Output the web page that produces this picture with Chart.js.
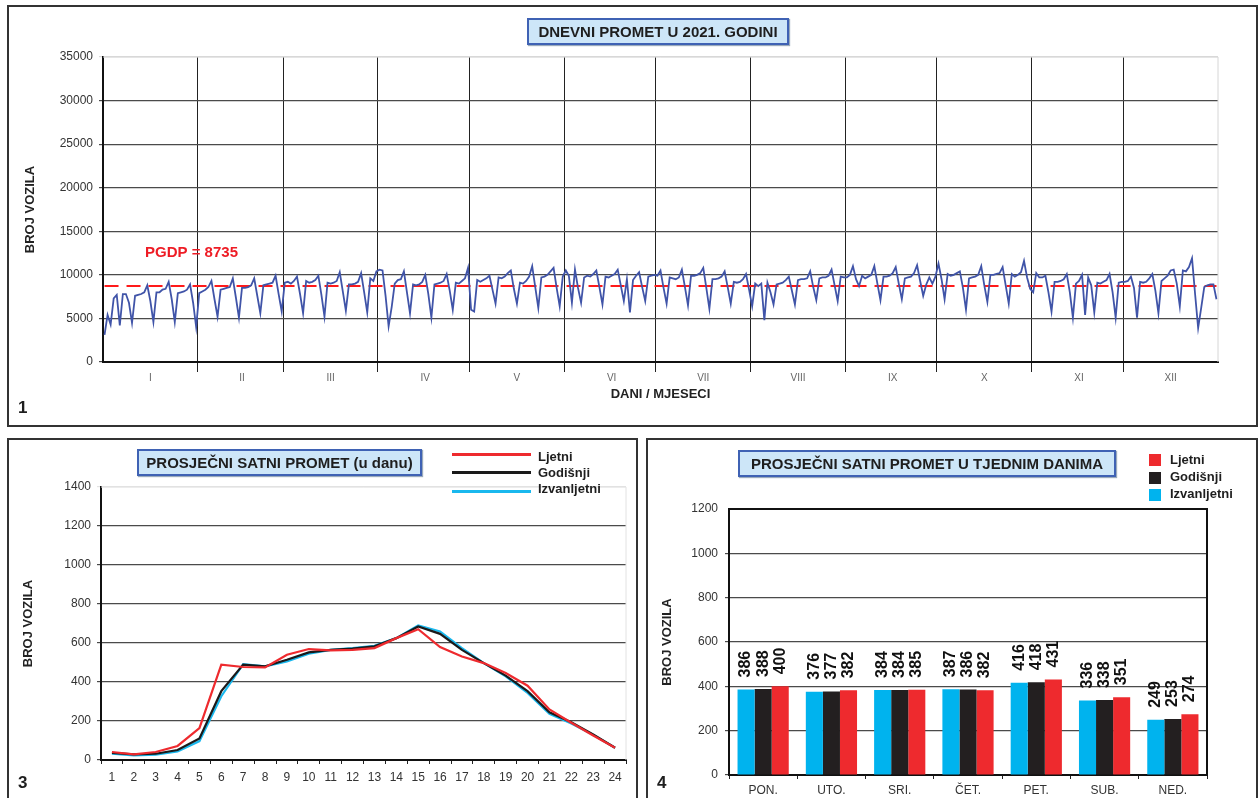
<!DOCTYPE html>
<html lang="hr">
<head>
<meta charset="utf-8">
<title>Promet 2021</title>
<script src="https://cdn.jsdelivr.net/npm/chart.js@4.4.1/dist/chart.umd.min.js"></script>
<style>
  html, body { margin: 0; padding: 0; background: #fff; }
  body { width: 1260px; height: 798px; overflow: hidden; position: relative;
         font-family: 'Liberation Sans', Arial, sans-serif; color: #1e1e1e; }
  .panel { position: absolute; border: 2px solid #333; box-sizing: border-box; }
  canvas { position: absolute; }
  .title { position: absolute; box-sizing: border-box; background: #CDE6F8; border: 2px solid #3F62B4;
           font-weight: bold; font-size: 15px; line-height: 23px; text-align: center;
           box-shadow: 1px 1px 1px #9aaabb; white-space: nowrap; }
  .num { position: absolute; font-weight: bold; font-size: 17px; }
  .leg { position: absolute; font-weight: bold; font-size: 13px; line-height: 15px; }
  .legline { position: absolute; height: 3px; width: 79px; }
  .legbox { position: absolute; width: 12px; height: 12px; }
</style>
</head>
<body>

<div class="panel" style="left:7px; top:5px; width:1251px; height:422px;"></div>
<div class="panel" style="left:7px; top:438px; width:631px; height:380px;"></div>
<div class="panel" style="left:646px; top:438px; width:612px; height:380px;"></div>

<canvas id="dailyChart" width="1245" height="417" style="left:10px; top:7px;"></canvas>
<canvas id="hourlyChart" width="625" height="357" style="left:10px; top:441px;"></canvas>
<canvas id="weekdayChart" width="606" height="357" style="left:649px; top:441px;"></canvas>

<div class="title" style="left:527px; top:18px; width:262px; height:27px;">DNEVNI PROMET U 2021. GODINI</div>
<div class="title" style="left:137px; top:449px; width:285px; height:27px;">PROSJEČNI SATNI PROMET (u danu)</div>
<div class="title" style="left:738px; top:450px; width:378px; height:27px;">PROSJEČNI SATNI PROMET U TJEDNIM DANIMA</div>

<div class="num" style="left:18px; top:398px;">1</div>
<div class="num" style="left:18px; top:773px;">3</div>
<div class="num" style="left:657px; top:773px;">4</div>

<div class="legline" style="left:452px; top:453px; background:#EE2A2E;"></div>
<div class="legline" style="left:452px; top:471px; background:#1a1a1a;"></div>
<div class="legline" style="left:452px; top:490px; background:#19B8EE;"></div>
<div class="leg" style="left:538px; top:449px;">Ljetni</div>
<div class="leg" style="left:538px; top:465px;">Godišnji</div>
<div class="leg" style="left:538px; top:481px;">Izvanljetni</div>

<div class="legbox" style="left:1149px; top:454px; background:#EE2A2E;"></div>
<div class="legbox" style="left:1149px; top:472px; background:#231F20;"></div>
<div class="legbox" style="left:1149px; top:489px; background:#00B3EE;"></div>
<div class="leg" style="left:1170px; top:452px;">Ljetni</div>
<div class="leg" style="left:1170px; top:469px;">Godišnji</div>
<div class="leg" style="left:1170px; top:486px;">Izvanljetni</div>

<script>
// ---- daily traffic 2021 (one value per day) ----
const PGDP = 8735;
const months = ['I', 'II', 'III', 'IV', 'V', 'VI', 'VII', 'VIII', 'IX', 'X', 'XI', 'XII'];
const jan = [3100, 5400, 4300, 7300, 7700, 4200, 7800, 7800, 6800, 4500, 7600, 7700, 7800, 8000, 8800, 7000,
             4600, 8000, 8000, 8300, 8400, 9200, 7200, 4600, 7900, 8000, 8100, 8300, 8900, 6800, 4000];
const feb = [7900, 8100, 8300, 8600, 9300, 7200, 5200, 8300, 8400, 8500, 8600, 9600, 7400, 5100,
             8500, 8500, 8600, 8800, 9600, 7600, 5600, 8800, 8900, 9000, 9100, 9900, 7800, 5800];
const mar = [9100, 9200, 9000, 9300, 9800, 7800, 5600, 9300, 9100, 9200, 9400, 9900, 7700, 5200, 9100, 9000,
             9100, 9300, 10300, 8100, 5900, 8900, 8900, 9000, 9200, 10200, 8000, 5700, 9600, 9300, 10400];
const apr = [10600, 10500, 7600, 4100, 6300, 9000, 9400, 9500, 10400, 8000, 5600, 8900, 8800, 8900, 9200,
             10000, 7800, 5100, 8900, 9000, 9100, 9300, 10100, 8200, 6000, 9100, 9000, 9300, 9600, 10800];
const may = [6000, 5800, 9400, 9200, 9400, 9600, 9900, 8300, 6700, 9700, 9600, 9800, 10200, 10500, 8400, 6700,
             9100, 9000, 9300, 9800, 11000, 8600, 6200, 9700, 9800, 10000, 10400, 10800, 8500, 6400, 9800];
const jun = [10500, 9900, 6800, 10600, 8500, 6800, 9700, 9900, 9800, 10100, 10500, 8600, 6600, 9800, 9700,
             9900, 10100, 10600, 8800, 7000, 9500, 5700, 9400, 9900, 10300, 8600, 7000, 9800, 9900, 10000];
const jul = [9900, 10500, 8500, 6700, 9700, 9600, 9500, 9700, 10600, 8600, 6500, 9900, 9900, 10000, 10200, 10800,
             8500, 6100, 9500, 9500, 9600, 9800, 10400, 8600, 6700, 9200, 9100, 9200, 9500, 10100, 8300];
const aug = [6400, 9000, 8700, 9000, 4800, 9100, 8000, 6600, 8900, 9000, 9100, 9400, 9800, 8200, 6600, 9400,
             9500, 9500, 9600, 10400, 8600, 7100, 9600, 9700, 9700, 9900, 10600, 8800, 7000, 9800, 9700];
const sep = [9700, 10000, 11000, 9500, 8700, 9900, 9600, 9800, 10000, 11000, 9000, 7100, 9800, 9800, 9900,
             10200, 10900, 9000, 7200, 9600, 9700, 9800, 10200, 11100, 9300, 7600, 8900, 9700, 9000, 9800];
const oct = [11300, 9500, 7200, 10100, 9900, 10000, 10200, 10400, 8500, 6000, 9600, 9700, 9800, 10000, 11000, 8800,
             6900, 10000, 10000, 10100, 10200, 10900, 8800, 6700, 10100, 9800, 10000, 10300, 11600, 9700, 8400];
const nov = [8000, 10200, 9700, 9700, 9900, 8000, 5800, 9200, 9200, 9300, 9500, 10100, 8000, 5100, 9000,
             9300, 10000, 5400, 9700, 8800, 5700, 9100, 9000, 9200, 9400, 10100, 8000, 5100, 9100, 9200];
const dec = [9200, 9300, 9800, 8500, 5100, 9200, 9100, 9200, 9600, 10100, 8200, 5600, 9300, 9600, 9900, 10500,
             10600, 9000, 6400, 10500, 10400, 10900, 11900, 7800, 3900, 6200, 8600, 8800, 8900, 8900, 7200];

// ---- average hourly traffic (hours 1..24) ----
const hours = ['1', '2', '3', '4', '5', '6', '7', '8', '9', '10', '11', '12',
               '13', '14', '15', '16', '17', '18', '19', '20', '21', '22', '23', '24'];
const hourLjetni = [41, 29, 41, 72, 164, 489, 477, 475, 540, 569, 562, 565,
                    574, 625, 671, 579, 531, 497, 446, 381, 259, 191, 126, 63];
const hourGodisnji = [37, 29, 32, 51, 111, 353, 489, 480, 514, 552, 565, 571,
                      583, 625, 685, 647, 565, 497, 433, 353, 245, 194, 131, 63];
const hourIzvanljetni = [32, 24, 27, 44, 97, 327, 492, 480, 506, 545, 565, 574,
                         586, 625, 690, 659, 574, 497, 429, 344, 237, 187, 129, 63];

// ---- average hourly traffic by weekday ----
const weekdays = ['PON.', 'UTO.', 'SRI.', 'ČET.', 'PET.', 'SUB.', 'NED.'];
const dayIzvanljetni = [386, 376, 384, 387, 416, 336, 249];
const dayGodisnji = [388, 377, 384, 386, 418, 338, 253];
const dayLjetni = [400, 382, 385, 382, 431, 351, 274];

const FONT = "'Liberation Sans', Arial, sans-serif";
Chart.defaults.font.family = FONT;
Chart.defaults.color = '#333';
Chart.defaults.animation = false;

const RED = '#EE2A2E', BLACK = '#231F20', CYAN = '#00B3EE';
const plainNumber = v => String(v);   // no thousands separator, like the original

// month-based category labels and month start indices
const monthData = [jan, feb, mar, apr, may, jun, jul, aug, sep, oct, nov, dec];
const daily = [].concat(...monthData);
const dayLabels = [];
const monthStarts = new Set();
monthData.forEach((m, mi) => {
    monthStarts.add(dayLabels.length);
    for (let i = 0; i < m.length; i++) {
        dayLabels.push(i === Math.floor(m.length / 2) ? months[mi] : '');
    }
});

// PGDP text above the dashed line
const pgdpLabel = {
    id: 'pgdpLabel',
    afterDatasetsDraw(chart) {
        const ctx = chart.ctx;
        const y = chart.scales.y.getPixelForValue(PGDP);
        ctx.save();
        ctx.font = 'bold 15px ' + FONT;
        ctx.fillStyle = '#EE1C25';
        ctx.textBaseline = 'middle';
        ctx.fillText('PGDP = ' + PGDP, chart.chartArea.left + 42, y - 33);
        ctx.restore();
    }
};

// thin outline on the open sides of the plot area
const plotFrame = {
    id: 'plotFrame',
    afterDraw(chart, args, opts) {
        const a = chart.chartArea;
        const ctx = chart.ctx;
        ctx.save();
        ctx.strokeStyle = opts.color;
        ctx.lineWidth = opts.width;
        ctx.beginPath();
        ctx.moveTo(a.left, a.top);
        ctx.lineTo(a.right, a.top);
        ctx.lineTo(a.right, a.bottom);
        ctx.stroke();
        ctx.restore();
    }
};

// rotated value labels above the bars
const barValueLabels = {
    id: 'barValueLabels',
    afterDatasetsDraw(chart) {
        const ctx = chart.ctx;
        ctx.save();
        ctx.font = 'bold 16px ' + FONT;
        ctx.fillStyle = '#111';
        ctx.textAlign = 'left';
        ctx.textBaseline = 'middle';
        chart.data.datasets.forEach((ds, i) => {
            chart.getDatasetMeta(i).data.forEach((bar, j) => {
                ctx.save();
                ctx.translate(bar.x, bar.y - 12);
                ctx.rotate(-Math.PI / 2);
                ctx.fillText(ds.data[j], 0, 0);
                ctx.restore();
            });
        });
        ctx.restore();
    }
};

document.addEventListener('DOMContentLoaded', function () {
    // Chart 1: daily traffic
    new Chart(document.getElementById('dailyChart'), {
        type: 'line',
        data: {
            labels: dayLabels,
            datasets: [{
                label: 'Dnevni promet',
                data: daily,
                borderColor: '#4054A8',
                borderWidth: 1.8,
                pointRadius: 0,
                tension: 0
            }, {
                label: 'PGDP',
                data: daily.map(() => PGDP),
                borderColor: '#FF1A1A',
                borderWidth: 2,
                borderDash: [14, 8],
                pointRadius: 0
            }]
        },
        options: {
            responsive: false,
            layout: { padding: { top: 50, right: 37, left: 0, bottom: 0 } },
            plugins: {
                legend: { display: false },
                tooltip: { enabled: false },
                plotFrame: { color: '#d6d6d6', width: 1 }
            },
            scales: {
                x: {
                    offset: true,
                    afterFit: s => { s.height = 62; },
                    grid: {
                        offset: true,
                        color: c => monthStarts.has(c.index) && c.index > 0 ? '#222' : 'transparent',
                        lineWidth: 1,
                        tickLength: 10
                    },
                    border: { color: '#111', width: 2 },
                    ticks: {
                        autoSkip: false, maxRotation: 0, minRotation: 0, padding: 0,
                        font: { size: 10 }, color: '#666'
                    },
                    title: {
                        display: true, text: 'DANI / MJESECI',
                        font: { size: 13, weight: 'bold' }, color: '#222',
                        padding: { top: 0, bottom: 22 }
                    }
                },
                y: {
                    min: 0, max: 35000,
                    afterFit: s => { s.width = 93; },
                    grid: {
                        color: c => c.tick && c.tick.value === 35000 ? '#dadada' : '#4a4a4a',
                        lineWidth: 1.2,
                        tickLength: 4
                    },
                    border: { color: '#111', width: 2 },
                    ticks: { stepSize: 5000, padding: 6, font: { size: 12 }, color: '#333', callback: plainNumber },
                    title: {
                        display: true, text: 'BROJ VOZILA',
                        font: { size: 13, weight: 'bold' }, color: '#222',
                        padding: { top: 13, bottom: 0 }
                    }
                }
            }
        },
        plugins: [pgdpLabel, plotFrame]
    });

    // Chart 3: average hourly traffic
    new Chart(document.getElementById('hourlyChart'), {
        type: 'line',
        data: {
            labels: hours,
            datasets: [
                { label: 'Ljetni', data: hourLjetni, borderColor: RED, borderWidth: 2.2, pointRadius: 0 },
                { label: 'Godišnji', data: hourGodisnji, borderColor: '#1a1a1a', borderWidth: 2.2, pointRadius: 0 },
                { label: 'Izvanljetni', data: hourIzvanljetni, borderColor: '#19B8EE', borderWidth: 2.2, pointRadius: 0 }
            ]
        },
        options: {
            responsive: false,
            layout: { padding: { top: 46, right: 9, left: 0, bottom: 0 } },
            plugins: {
                legend: { display: false },
                tooltip: { enabled: false },
                plotFrame: { color: '#e2e2e2', width: 1 }
            },
            scales: {
                x: {
                    offset: true,
                    afterFit: s => { s.height = 38; },
                    grid: { offset: true, drawOnChartArea: false, color: '#222', tickLength: 4 },
                    border: { color: '#111', width: 2 },
                    ticks: { padding: 6, font: { size: 12 }, color: '#333', maxRotation: 0 }
                },
                y: {
                    min: 0, max: 1400,
                    afterFit: s => { s.width = 91; },
                    grid: {
                        color: c => c.tick && c.tick.value === 1400 ? '#e2e2e2' : '#4a4a4a',
                        lineWidth: 1.2,
                        tickLength: 4
                    },
                    border: { color: '#111', width: 2 },
                    ticks: { stepSize: 200, padding: 6, font: { size: 12 }, color: '#333', callback: plainNumber },
                    title: {
                        display: true, text: 'BROJ VOZILA',
                        font: { size: 13, weight: 'bold' }, color: '#222',
                        padding: { top: 11, bottom: 0 }
                    }
                }
            }
        },
        plugins: [plotFrame]
    });

    // Chart 4: average hourly traffic by weekday
    new Chart(document.getElementById('weekdayChart'), {
        type: 'bar',
        data: {
            labels: weekdays,
            datasets: [
                { label: 'Izvanljetni', data: dayIzvanljetni, backgroundColor: CYAN },
                { label: 'Godišnji', data: dayGodisnji, backgroundColor: BLACK },
                { label: 'Ljetni', data: dayLjetni, backgroundColor: RED }
            ]
        },
        options: {
            responsive: false,
            categoryPercentage: 0.75,
            barPercentage: 1.0,
            layout: { padding: { top: 68, right: 48, left: 0, bottom: 0 } },
            plugins: {
                legend: { display: false },
                tooltip: { enabled: false },
                plotFrame: { color: '#111', width: 2 }
            },
            scales: {
                x: {
                    afterFit: s => { s.height = 23; },
                    grid: { offset: true, drawOnChartArea: false, color: '#222', tickLength: 4 },
                    border: { color: '#111', width: 2 },
                    ticks: { padding: 4, font: { size: 12 }, color: '#333' }
                },
                y: {
                    min: 0, max: 1200,
                    afterFit: s => { s.width = 80; },
                    grid: {
                        color: c => c.tick && c.tick.value === 1200 ? 'transparent' : '#4a4a4a',
                        lineWidth: 1.2,
                        tickLength: 4
                    },
                    border: { color: '#111', width: 2 },
                    ticks: { stepSize: 200, padding: 7, font: { size: 12 }, color: '#333', callback: plainNumber },
                    title: {
                        display: true, text: 'BROJ VOZILA',
                        font: { size: 13, weight: 'bold' }, color: '#222',
                        padding: { top: 11, bottom: 0 }
                    }
                }
            }
        },
        plugins: [barValueLabels, plotFrame]
    });
});
</script>
</body>
</html>
